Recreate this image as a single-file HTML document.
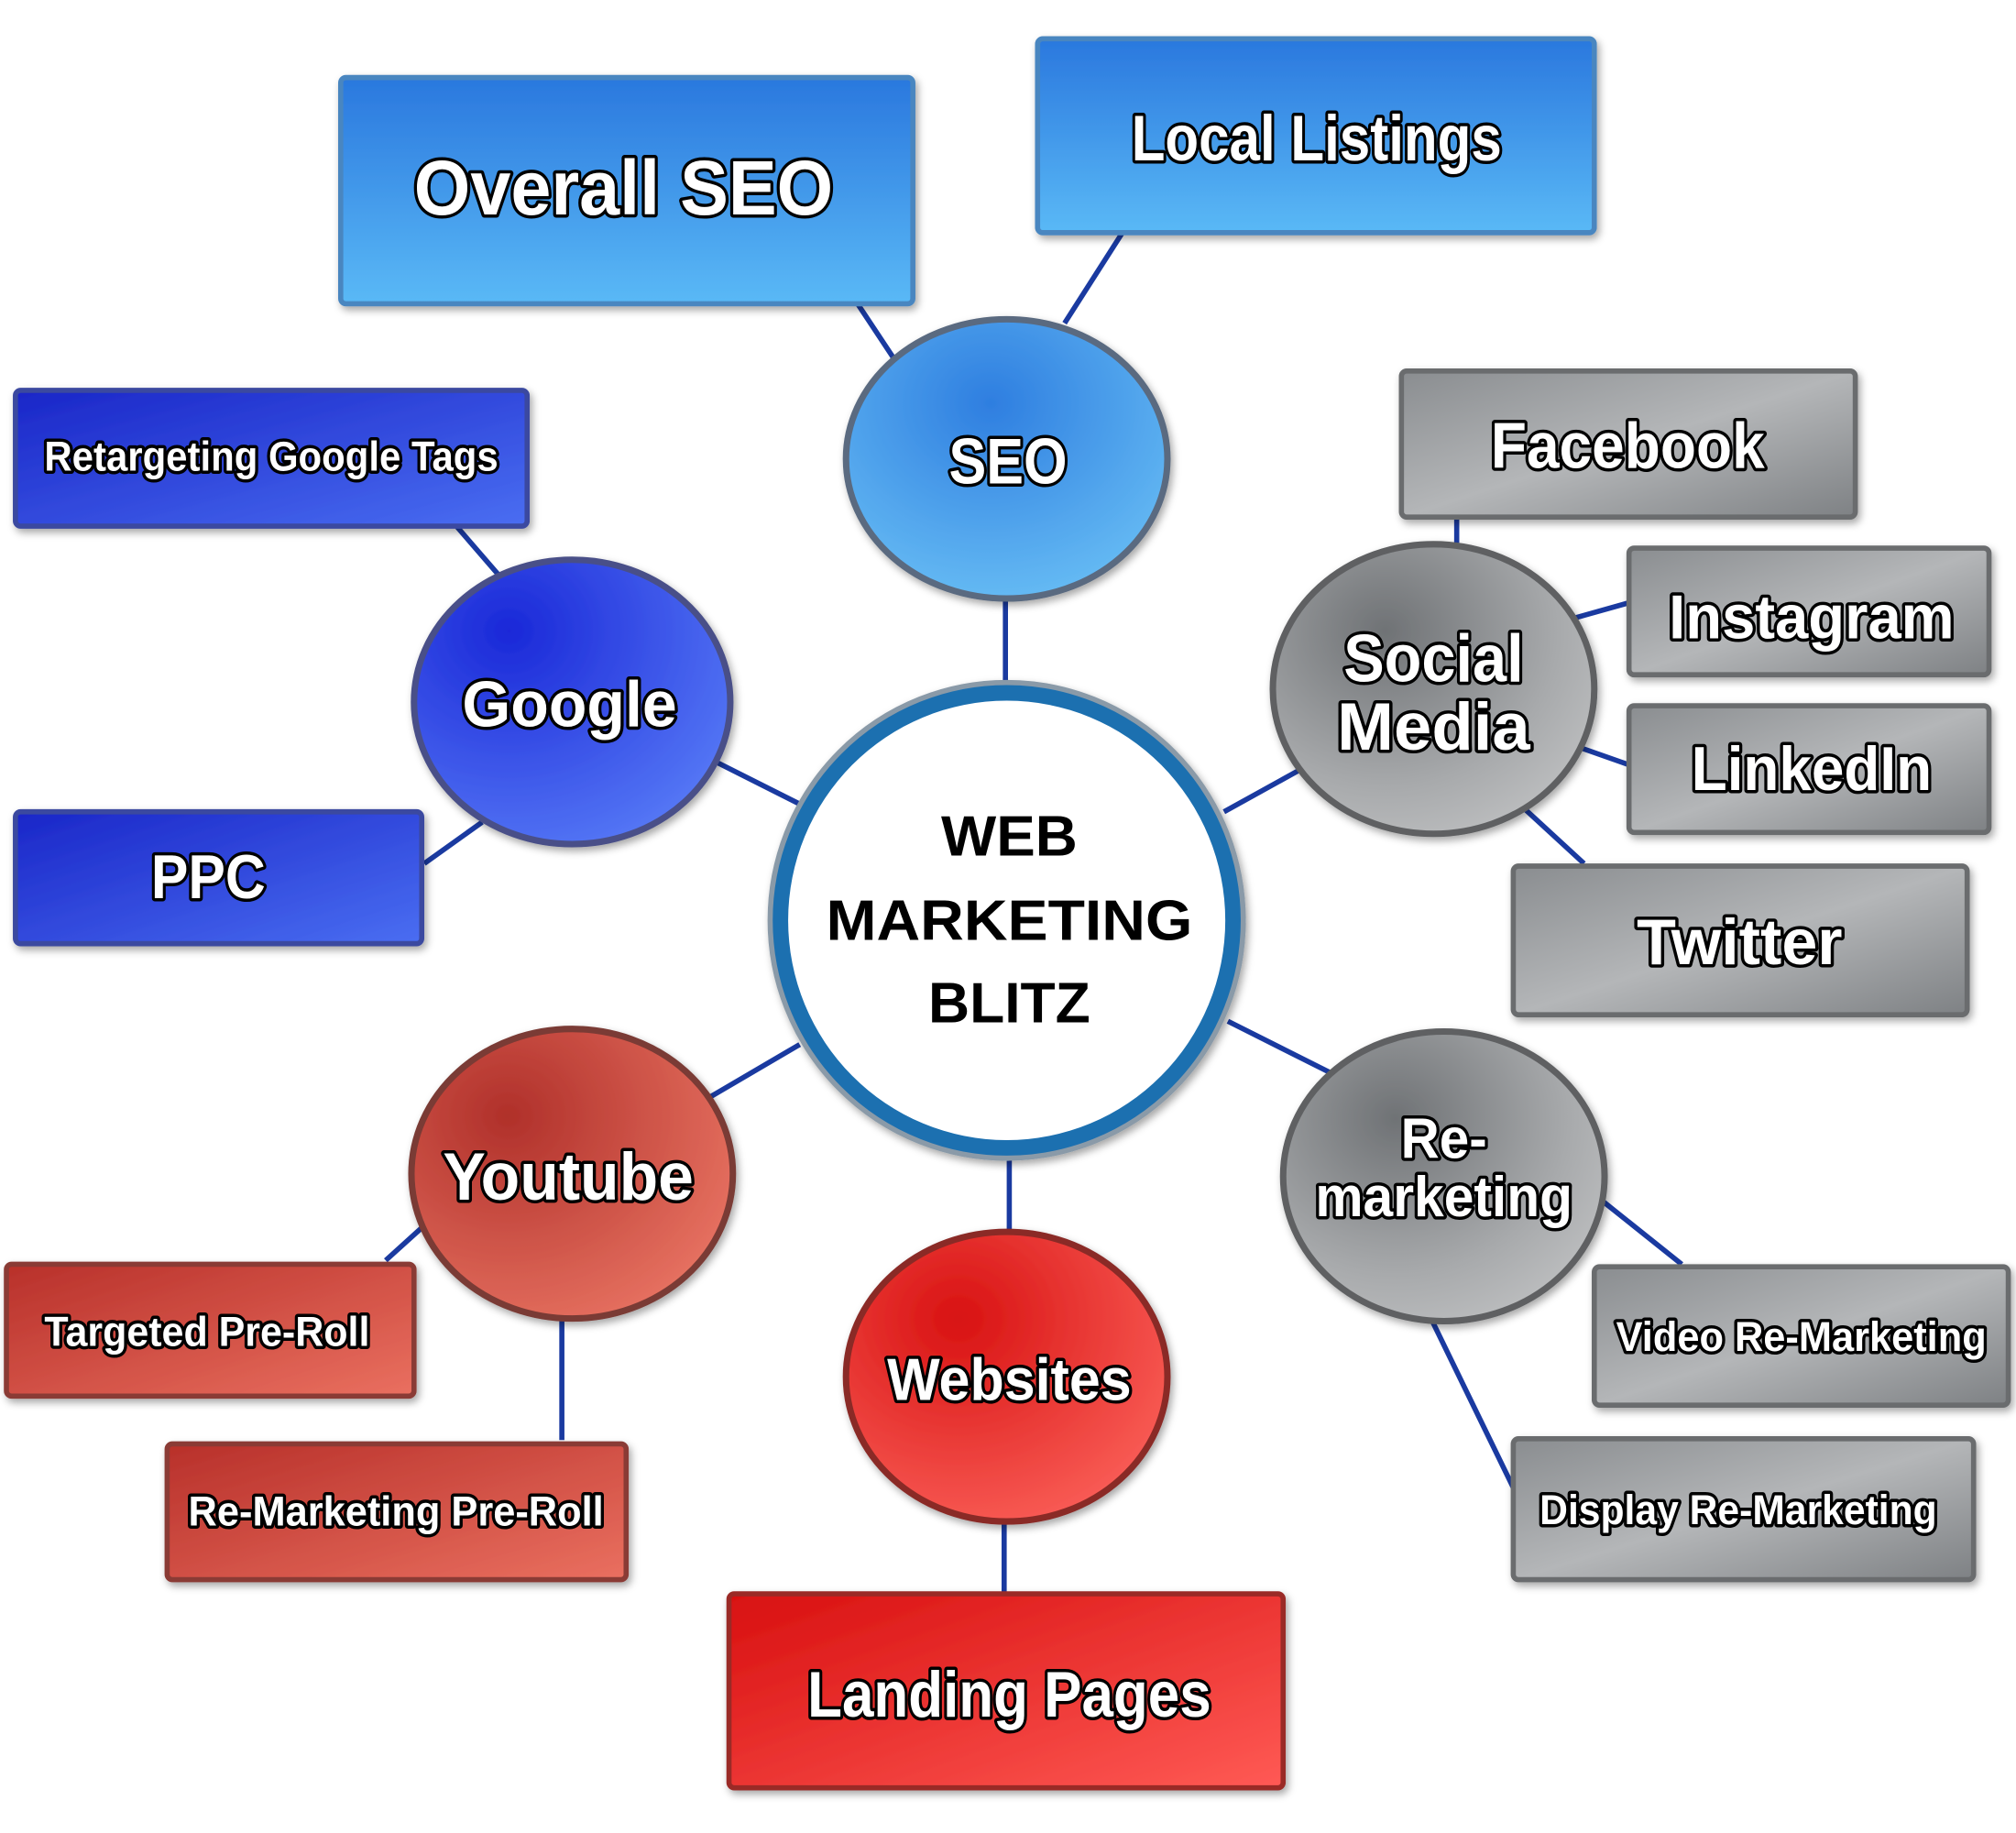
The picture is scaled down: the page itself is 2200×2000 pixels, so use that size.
<!DOCTYPE html>
<html><head><meta charset="utf-8"><style>
html,body{margin:0;padding:0;background:#fff;}
svg{display:block;}
text{font-family:"Liberation Sans",sans-serif;font-weight:bold;}
.w{fill:#fff;stroke:#000;stroke-width:5;paint-order:stroke;stroke-linejoin:round;}
.b{fill:#000;}
.c{stroke:#1a3aa0;stroke-width:4;}
</style></head><body>
<svg width="2200" height="2000" viewBox="0 0 1568 1418" preserveAspectRatio="none" xmlns="http://www.w3.org/2000/svg">
<defs>
<linearGradient id="lb" x1="0" y1="0" x2="0" y2="1"><stop offset="0" stop-color="#2a78de"/><stop offset="1" stop-color="#5ab9f6"/></linearGradient>
<linearGradient id="db" x1="0" y1="0" x2="1" y2="1"><stop offset="0" stop-color="#1a26c8"/><stop offset="1" stop-color="#4a6ef2"/></linearGradient>
<linearGradient id="gr" x1="0" y1="0" x2="1" y2="1"><stop offset="0" stop-color="#8a8d90"/><stop offset="0.5" stop-color="#b4b6b8"/><stop offset="1" stop-color="#7e8184"/></linearGradient>
<linearGradient id="rd" x1="0" y1="0" x2="1" y2="1"><stop offset="0" stop-color="#b8302a"/><stop offset="1" stop-color="#ea7060"/></linearGradient>
<linearGradient id="br" x1="0" y1="0" x2="1" y2="1"><stop offset="0" stop-color="#d81010"/><stop offset="1" stop-color="#ff5a55"/></linearGradient>
<radialGradient id="cb" cx="0.45" cy="0.3" r="0.8"><stop offset="0" stop-color="#2e7ee0"/><stop offset="1" stop-color="#6cc2f6"/></radialGradient>
<radialGradient id="cdb" cx="0.3" cy="0.25" r="0.9"><stop offset="0" stop-color="#1a28d8"/><stop offset="1" stop-color="#5a7ef8"/></radialGradient>
<radialGradient id="cg" cx="0.35" cy="0.3" r="0.9"><stop offset="0" stop-color="#6f7275"/><stop offset="0.6" stop-color="#a8aaac"/><stop offset="1" stop-color="#c8c9ca"/></radialGradient>
<radialGradient id="cr" cx="0.3" cy="0.3" r="0.9"><stop offset="0" stop-color="#b0302a"/><stop offset="1" stop-color="#ee7a68"/></radialGradient>
<radialGradient id="cbr" cx="0.35" cy="0.3" r="0.9"><stop offset="0" stop-color="#d81212"/><stop offset="1" stop-color="#ff6a62"/></radialGradient>
<filter id="sh" x="-10%" y="-10%" width="130%" height="130%"><feDropShadow dx="2" dy="3" stdDeviation="3" flood-color="#000" flood-opacity="0.35"/></filter>
</defs>

<!-- connectors -->
<g class="c">
<line x1="665" y1="232" x2="697" y2="280"/>
<line x1="873" y1="180" x2="828" y2="250"/>
<line x1="782" y1="465" x2="782" y2="530"/>
<line x1="355" y1="407" x2="388" y2="445"/>
<line x1="558" y1="590" x2="622" y2="622"/>
<line x1="330" y1="668" x2="375" y2="636"/>
<line x1="952" y1="628" x2="1012" y2="595"/>
<line x1="1133" y1="400" x2="1133" y2="420"/>
<line x1="1225" y1="478" x2="1268" y2="466"/>
<line x1="1228" y1="578" x2="1268" y2="592"/>
<line x1="1185" y1="625" x2="1232" y2="668"/>
<line x1="955" y1="790" x2="1035" y2="830"/>
<line x1="1245" y1="928" x2="1308" y2="978"/>
<line x1="1113" y1="1020" x2="1180" y2="1157"/>
<line x1="550" y1="850" x2="622" y2="808"/>
<line x1="300" y1="975" x2="330" y2="948"/>
<line x1="437" y1="1020" x2="437" y2="1114"/>
<line x1="785" y1="895" x2="785" y2="955"/>
<line x1="781" y1="1178" x2="781" y2="1234"/>
</g>

<!-- boxes -->
<g filter="url(#sh)" stroke-width="4">
<rect x="265" y="60" width="445" height="175" rx="4" fill="url(#lb)" stroke="#4a86c0"/>
<rect x="807" y="30" width="433" height="150" rx="4" fill="url(#lb)" stroke="#4a86c0"/>
<rect x="12" y="302" width="398" height="105" rx="4" fill="url(#db)" stroke="#3a48a0"/>
<rect x="12" y="628" width="316" height="102" rx="4" fill="url(#db)" stroke="#3a48a0"/>
<rect x="1090" y="287" width="353" height="113" rx="4" fill="url(#gr)" stroke="#6a6c6e"/>
<rect x="1267" y="424" width="280" height="98" rx="4" fill="url(#gr)" stroke="#6a6c6e"/>
<rect x="1267" y="546" width="280" height="98" rx="4" fill="url(#gr)" stroke="#6a6c6e"/>
<rect x="1177" y="670" width="353" height="115" rx="4" fill="url(#gr)" stroke="#6a6c6e"/>
<rect x="1240" y="980" width="322" height="107" rx="4" fill="url(#gr)" stroke="#6a6c6e"/>
<rect x="1177" y="1113" width="358" height="109" rx="4" fill="url(#gr)" stroke="#6a6c6e"/>
<rect x="5" y="978" width="317" height="102" rx="4" fill="url(#rd)" stroke="#8a3a34"/>
<rect x="130" y="1117" width="357" height="105" rx="4" fill="url(#rd)" stroke="#8a3a34"/>
<rect x="567" y="1233" width="431" height="150" rx="4" fill="url(#br)" stroke="#9a2a28"/>
</g>

<!-- circles -->
<g filter="url(#sh)" stroke-width="5">
<ellipse cx="783" cy="355" rx="125" ry="108" fill="url(#cb)" stroke="#5a6a80"/>
<ellipse cx="445" cy="543" rx="123" ry="110" fill="url(#cdb)" stroke="#4a5088"/>
<ellipse cx="1115" cy="533" rx="125" ry="112" fill="url(#cg)" stroke="#5e6062"/>
<ellipse cx="1123" cy="910" rx="125" ry="112" fill="url(#cg)" stroke="#5e6062"/>
<ellipse cx="445" cy="908" rx="125" ry="112" fill="url(#cr)" stroke="#7a3a34"/>
<ellipse cx="783" cy="1065" rx="125" ry="112" fill="url(#cbr)" stroke="#8a2a28"/>
<circle cx="783" cy="712" r="184" fill="#1d6fb0" stroke="#8a9aa8" stroke-width="4"/>
<circle cx="783" cy="712" r="170" fill="#fff" stroke="none"/>
</g>

<!-- text -->
<text class="w" x="485" y="166" font-size="60" text-anchor="middle" textLength="326" lengthAdjust="spacingAndGlyphs">Overall SEO</text>
<text class="w" x="1024" y="124" font-size="50" text-anchor="middle" textLength="288" lengthAdjust="spacingAndGlyphs">Local Listings</text>
<text class="w" x="784" y="374" font-size="50" text-anchor="middle" textLength="92" lengthAdjust="spacingAndGlyphs">SEO</text>
<text class="w" x="211" y="364" font-size="32" text-anchor="middle" textLength="353" lengthAdjust="spacingAndGlyphs">Retargeting Google Tags</text>
<text class="w" x="443" y="562" font-size="50" text-anchor="middle" textLength="167" lengthAdjust="spacingAndGlyphs">Google</text>
<text class="w" x="162" y="695" font-size="48" text-anchor="middle" textLength="89" lengthAdjust="spacingAndGlyphs">PPC</text>
<text class="b" x="785" y="662" font-size="44" text-anchor="middle" textLength="106" lengthAdjust="spacingAndGlyphs">WEB</text>
<text class="b" x="785" y="727" font-size="44" text-anchor="middle" textLength="285" lengthAdjust="spacingAndGlyphs">MARKETING</text>
<text class="b" x="785" y="791" font-size="44" text-anchor="middle" textLength="126" lengthAdjust="spacingAndGlyphs">BLITZ</text>
<text class="w" x="1266" y="362" font-size="50" text-anchor="middle" textLength="213" lengthAdjust="spacingAndGlyphs">Facebook</text>
<text class="w" x="1115" y="527" font-size="52" text-anchor="middle" textLength="140" lengthAdjust="spacingAndGlyphs">Social</text>
<text class="w" x="1115" y="580" font-size="52" text-anchor="middle" textLength="150" lengthAdjust="spacingAndGlyphs">Media</text>
<text class="w" x="1409" y="494" font-size="48" text-anchor="middle" textLength="222" lengthAdjust="spacingAndGlyphs">Instagram</text>
<text class="w" x="1409" y="611" font-size="48" text-anchor="middle" textLength="187" lengthAdjust="spacingAndGlyphs">LinkedIn</text>
<text class="w" x="1353" y="746" font-size="50" text-anchor="middle" textLength="160" lengthAdjust="spacingAndGlyphs">Twitter</text>
<text class="w" x="1123" y="896" font-size="44" text-anchor="middle" textLength="67" lengthAdjust="spacingAndGlyphs">Re-</text>
<text class="w" x="1123" y="941" font-size="44" text-anchor="middle" textLength="200" lengthAdjust="spacingAndGlyphs">marketing</text>
<text class="w" x="1401" y="1045" font-size="32" text-anchor="middle" textLength="288" lengthAdjust="spacingAndGlyphs">Video Re-Marketing</text>
<text class="w" x="1352" y="1179" font-size="32" text-anchor="middle" textLength="309" lengthAdjust="spacingAndGlyphs">Display Re-Marketing</text>
<text class="w" x="442" y="928" font-size="52" text-anchor="middle" textLength="195" lengthAdjust="spacingAndGlyphs">Youtube</text>
<text class="w" x="161" y="1041" font-size="32" text-anchor="middle" textLength="253" lengthAdjust="spacingAndGlyphs">Targeted Pre-Roll</text>
<text class="w" x="308" y="1180" font-size="32" text-anchor="middle" textLength="323" lengthAdjust="spacingAndGlyphs">Re-Marketing Pre-Roll</text>
<text class="w" x="785" y="1083" font-size="46" text-anchor="middle" textLength="190" lengthAdjust="spacingAndGlyphs">Websites</text>
<text class="w" x="785" y="1328" font-size="50" text-anchor="middle" textLength="314" lengthAdjust="spacingAndGlyphs">Landing Pages</text>
</svg>
</body></html>
